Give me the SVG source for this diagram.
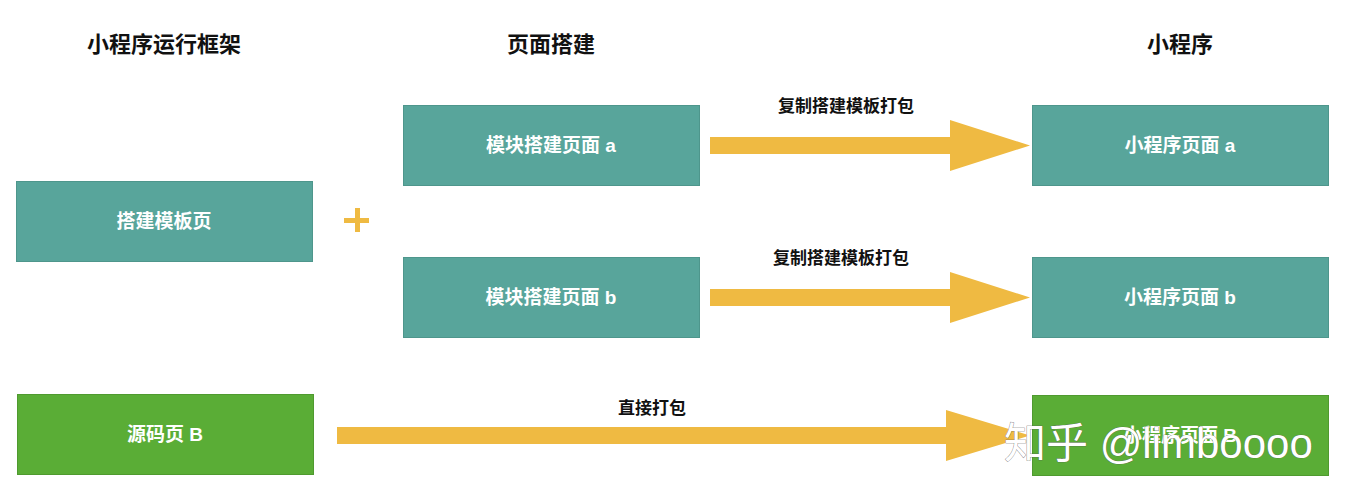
<svg xmlns="http://www.w3.org/2000/svg" width="1350" height="500" viewBox="0 0 1350 500">
<style>
.hdr{font-family:"Liberation Sans","Noto Sans CJK SC",sans-serif;font-size:22px;font-weight:bold;fill:#111;text-anchor:middle}
.lbl{font-family:"Liberation Sans","Noto Sans CJK SC",sans-serif;font-size:19px;font-weight:bold;fill:#fff;text-anchor:middle}
.alb{font-family:"Liberation Sans","Noto Sans CJK SC",sans-serif;font-size:17px;font-weight:bold;fill:#111;text-anchor:middle}
.teal{fill:#58a59b;stroke:#4e968c;stroke-width:1}
.green{fill:#5aad36;stroke:#4f9a2f;stroke-width:1}
.arrow{fill:#efba42}
.wm{font-family:"Liberation Sans","Noto Sans CJK SC",sans-serif;font-size:42px;fill:#fff;stroke:#555;stroke-width:0.6;paint-order:stroke}
</style>
<rect width="1350" height="500" fill="#fff"/>
<g id="headers">
<text class="hdr" x="164" y="52">小程序运行框架</text>
<text class="hdr" x="551" y="52">页面搭建</text>
<text class="hdr" x="1180" y="52">小程序</text>
</g>
<g id="node-template">
<rect class="teal" x="16.5" y="181.5" width="296" height="80"/>
<text class="lbl" x="164" y="228">搭建模板页</text>
</g>
<g id="node-source-b">
<rect class="green" x="17.5" y="394.5" width="296" height="80"/>
<text class="lbl" x="165" y="441">源码页 B</text>
</g>
<g id="node-build-a">
<rect class="teal" x="403.5" y="105.5" width="296" height="80"/>
<text class="lbl" x="551" y="152">模块搭建页面 a</text>
</g>
<g id="node-build-b">
<rect class="teal" x="403.5" y="257.5" width="296" height="80"/>
<text class="lbl" x="551" y="304">模块搭建页面 b</text>
</g>
<g id="node-mp-a">
<rect class="teal" x="1032.5" y="105.5" width="296" height="80"/>
<text class="lbl" x="1180" y="152">小程序页面 a</text>
</g>
<g id="node-mp-b">
<rect class="teal" x="1032.5" y="257.5" width="296" height="80"/>
<text class="lbl" x="1180" y="304">小程序页面 b</text>
</g>
<g id="node-mp-B">
<rect class="green" x="1032.5" y="395.5" width="296" height="80"/>
<text class="lbl" x="1180" y="442">小程序页面 B</text>
</g>
<g id="plus">
<rect class="arrow" x="344" y="218" width="25" height="5"/>
<rect class="arrow" x="355" y="208" width="5" height="24"/>
</g>
<g id="connectors">
<polygon class="arrow" points="710,137 950,137 950,120 1030,145.5 950,171 950,154 710,154"/>
<polygon class="arrow" points="710,289 950,289 950,272 1030,297.5 950,323 950,306 710,306"/>
<polygon class="arrow" points="337,427 946,427 946,410 1030,435.5 946,461 946,444 337,444"/>
<text class="alb" x="846" y="112">复制搭建模板打包</text>
<text class="alb" x="841" y="264">复制搭建模板打包</text>
<text class="alb" x="652" y="414">直接打包</text>
</g>
<text class="wm" x="1004" y="458">知乎 @limboooo</text>
</svg>
